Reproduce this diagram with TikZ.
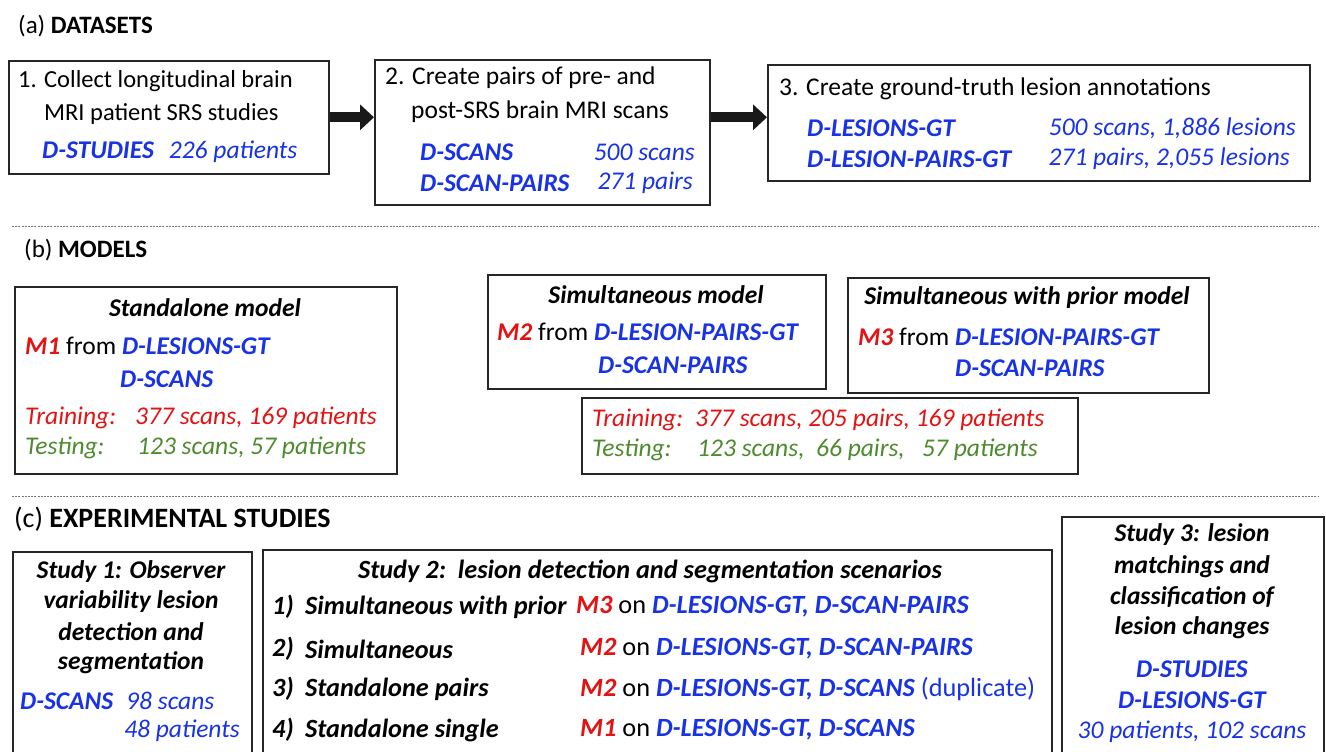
\documentclass[tikz,border=0pt]{standalone}
\usepackage{fontspec}
\setmainfont{Carlito}
\usetikzlibrary{arrows.meta,positioning}
\definecolor{DsBlue}{HTML}{1832E6}
\definecolor{MdRed}{HTML}{E31313}
\definecolor{TeGreen}{HTML}{4E8A2E}
\newcommand{\ds}[1]{\textcolor{DsBlue}{\bfseries\itshape #1}}
\newcommand{\dn}[1]{\textcolor{DsBlue}{\itshape #1}}
\newcommand{\mdl}[1]{\textcolor{MdRed}{\bfseries\itshape #1}}
\tikzset{
  panel/.style={draw=black!85, line width=1.6pt, anchor=north west, inner sep=0pt},
  txt/.style={anchor=west, inner sep=0pt, font=\fontsize{25.5}{30}\selectfont},
  smalltxt/.style={txt, font=\fontsize{24.5}{29}\selectfont},
  ctxt/.style={anchor=center, inner sep=0pt, font=\fontsize{25.5}{30}\selectfont\bfseries\itshape},
  rowtxt/.style={anchor=west, inner sep=0pt, font=\fontsize{26.3}{31}\selectfont},
  rowlabel/.style={rowtxt, font=\fontsize{26.3}{31}\selectfont\bfseries\itshape},
  head/.style={anchor=west, inner sep=0pt, font=\fontsize{25}{30}\selectfont},
  trainred/.style={txt, text=MdRed, font=\fontsize{25.5}{30}\selectfont\itshape},
  testgreen/.style={txt, text=TeGreen, font=\fontsize{25.5}{30}\selectfont\itshape},
  blockarrow/.style={-{Triangle[length=14pt,width=25pt]}, line width=10pt, black!90},
  sepline/.style={black!55, line width=0.8pt, dash pattern=on 2pt off 1.2pt},
}

\begin{document}
\begin{tikzpicture}[x=1pt, y=-1pt]
    \useasboundingbox (0,0) rectangle (1326,752);
    \clip (0,0) rectangle (1326,752);
    \fill[white] (0,0) rectangle (1326,752);

    \node[head] (heada) at (18,26) {(a) \textbf{DATASETS}};
    \node[panel, minimum width=320pt, minimum height=113pt] (collect) at (8,60) {};
    \node[panel, minimum width=335pt, minimum height=145pt] (pairs) at (374,59) {};
    \node[panel, minimum width=542pt, minimum height=116pt] (annot) at (767,64) {};
    \draw[blockarrow] (collect.east) -- (collect.east -| pairs.west);
    \draw[blockarrow] (pairs.east |- collect.east) -- (annot.west |- collect.east);

    \node[smalltxt] (collect1) at (18,81) {1. Collect longitudinal brain};
    \node[smalltxt] (collect2) at (44,114) {MRI patient SRS studies};
    \node[txt] (collect3) at (42,152) {\ds{D-STUDIES}\hspace{15pt}\dn{226 patients}};

    \node[txt] (pairs1) at (385,78) {2. Create pairs of pre- and};
    \node[txt] (pairs2) at (411,112) {post-SRS brain MRI scans};
    \node[txt] (pairs3) at (420,152) {\ds{D-SCANS}};
    \node[txt, anchor=east] (pairs4) at (695,152) {\dn{500 scans}};
    \node[txt] (pairs5) at (420,183) {\ds{D-SCAN-PAIRS}};
    \node[txt, anchor=east] (pairs6) at (693,183) {\dn{271 pairs}};

    \node[txt] (annot1) at (779,89) {3. Create ground-truth lesion annotations};
    \node[txt] (annot2) at (807,128) {\ds{D-LESIONS-GT}};
    \node[txt, anchor=east] (annot3) at (1296,128) {\dn{500 scans, 1,886 lesions}};
    \node[txt] (annot4) at (807,159) {\ds{D-LESION-PAIRS-GT}};
    \node[txt, anchor=east] (annot5) at (1290,159) {\dn{271 pairs, 2,055 lesions}};

    \draw[sepline] (12,226) -- (1318,226);

    \node[head] (headb) at (24,250) {(b) \textbf{MODELS}};
    \node[panel, minimum width=382pt, minimum height=187pt] (standalone) at (14,286) {};
    \node[ctxt] (standalone1) at (205,308) {Standalone model};
    \node[txt] (standalone2) at (25,346) {\mdl{M1} from \ds{D-LESIONS-GT}};
    \node[txt] (standalone3) at (120,379) {\ds{D-SCANS}};
    \node[trainred] (standalone4) at (25,418) {Training:};
    \node[trainred] (standalone5) at (135,418) {377 scans, 169 patients};
    \node[testgreen] (standalone6) at (25,448) {Testing:};
    \node[testgreen] (standalone7) at (137,448) {123 scans, 57 patients};

    \node[panel, minimum width=338pt, minimum height=114pt] (simult) at (487,274) {};
    \node[ctxt] (simult1) at (656,295) {Simultaneous model};
    \node[txt] (simult2) at (497,332) {\mdl{M2} from \ds{D-LESION-PAIRS-GT}};
    \node[txt] (simult3) at (598,365) {\ds{D-SCAN-PAIRS}};

    \node[panel, minimum width=361pt, minimum height=115pt] (prior) at (847,277) {};
    \node[ctxt] (prior1) at (1027,298) {Simultaneous with prior model};
    \node[txt] (prior2) at (858,337) {\mdl{M3} from \ds{D-LESION-PAIRS-GT}};
    \node[txt] (prior3) at (955,368) {\ds{D-SCAN-PAIRS}};

    \node[panel, minimum width=496pt, minimum height=76pt] (split) at (581,397) {};
    \node[trainred] (split1) at (592,420) {Training:};
    \node[trainred] (split2) at (695,420) {377 scans, 205 pairs, 169 patients};
    \node[testgreen] (split3) at (592,450) {Testing:};
    \node[testgreen] (split4) at (697,450) {123 scans,\ \ 66 pairs,\ \ \ 57 patients};

    \draw[sepline] (12,496) -- (1318,496);

    \node[head, font=\fontsize{28}{33}\selectfont] (headc) at (14,519) {(c) \textbf{EXPERIMENTAL STUDIES}};
    \node[panel, minimum width=239pt, minimum height=230pt] (study1) at (12,551) {};
    \node[ctxt] (study1a) at (131,572) {Study 1: Observer};
    \node[ctxt] (study1b) at (131,602) {variability lesion};
    \node[ctxt] (study1c) at (131,632) {detection and};
    \node[ctxt] (study1d) at (131,663) {segmentation};
    \node[txt] (study1e) at (20,701) {\ds{D-SCANS}\hspace{13pt}\dn{98 scans}};
    \node[txt, anchor=east] (study1f) at (240,731) {\dn{48 patients}};

    \node[panel, minimum width=789pt, minimum height=230pt] (study2) at (262,549) {};
    \node[rowlabel, anchor=center] (study2t) at (650,571) {Study 2:\ \ lesion detection and segmentation scenarios};
    \node[rowlabel] (row1n) at (272,607) {1)};
    \node[rowlabel] (row1l) at (305,607) {Simultaneous with prior};
    \node[rowtxt] (row1m) at (576,607) {\mdl{M3} on \ds{D-LESIONS-GT, D-SCAN-PAIRS}};
    \node[rowlabel] (row2n) at (272,649) {2)};
    \node[rowlabel] (row2l) at (305,649) {Simultaneous};
    \node[rowtxt] (row2m) at (580,649) {\mdl{M2} on \ds{D-LESIONS-GT, D-SCAN-PAIRS}};
    \node[rowlabel] (row3n) at (272,689) {3)};
    \node[rowlabel] (row3l) at (305,689) {Standalone pairs};
    \node[rowtxt] (row3m) at (580,689) {\mdl{M2} on \ds{D-LESIONS-GT, D-SCANS} \textcolor{DsBlue}{(duplicate)}};
    \node[rowlabel] (row4n) at (272,730) {4)};
    \node[rowlabel] (row4l) at (305,730) {Standalone single};
    \node[rowtxt] (row4m) at (580,730) {\mdl{M1} on \ds{D-LESIONS-GT, D-SCANS}};

    \node[panel, minimum width=262pt, minimum height=260pt] (study3) at (1061,516) {};
    \node[ctxt] (study3a) at (1192,535) {Study 3: lesion};
    \node[ctxt] (study3b) at (1192,567) {matchings and};
    \node[ctxt] (study3c) at (1192,597) {classification of};
    \node[ctxt] (study3d) at (1192,628) {lesion changes};
    \node[txt, anchor=center] (study3e) at (1192,669) {\ds{D-STUDIES}};
    \node[txt, anchor=center] (study3f) at (1192,700) {\ds{D-LESIONS-GT}};
    \node[txt, anchor=center] (study3g) at (1192,732) {\dn{30 patients, 102 scans}};
\end{tikzpicture}
\end{document}
